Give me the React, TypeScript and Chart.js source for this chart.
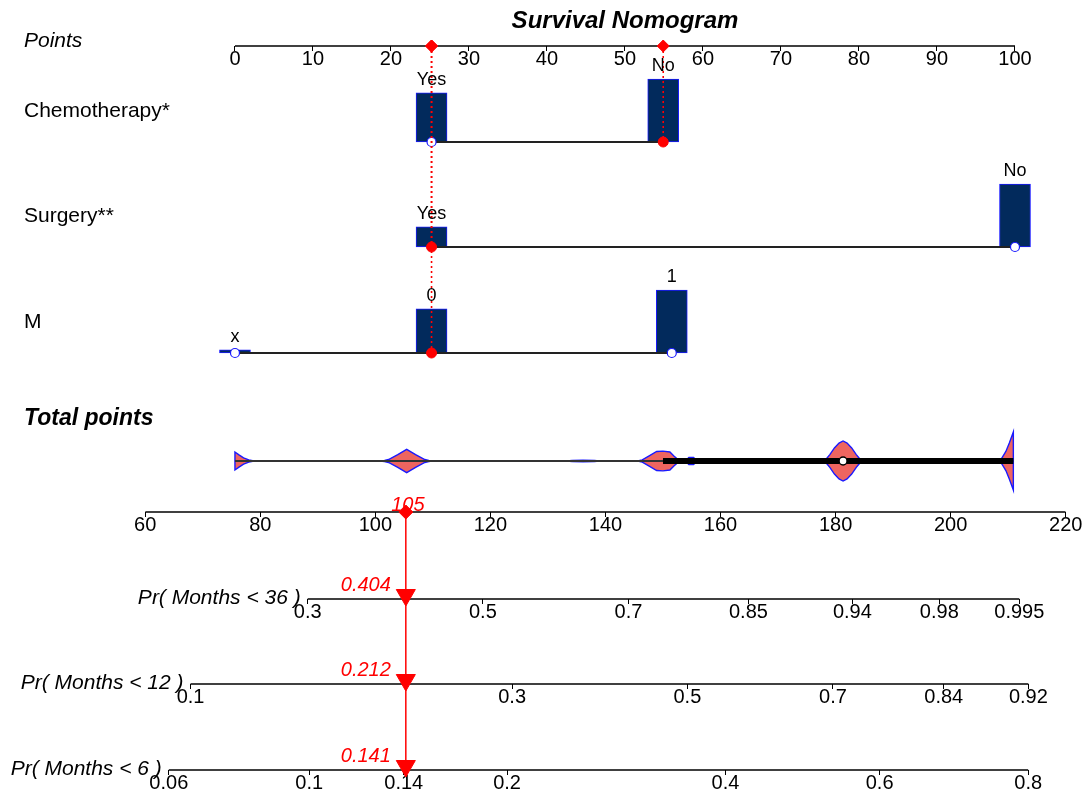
import React, { useEffect, useRef } from 'react';
import { Chart, registerables } from 'chart.js';

Chart.register(...registerables);

// ---------------- data ----------------
const pointTicks = [0, 10, 20, 30, 40, 50, 60, 70, 80, 90, 100];
const totalTicks = [60, 80, 100, 120, 140, 160, 180, 200, 220];

const chemoLevels = ['Yes', 'No'];
const chemoPoints = [25.2, 54.9];
const chemoFreq = [0.78, 1.0];

const surgeryLevels = ['Yes', 'No'];
const surgeryPoints = [25.2, 100];
const surgeryFreq = [0.32, 1.0];

const mLevels = ['x', '0', '1'];
const mPoints = [0, 25.2, 56.0];
const mFreq = [0.05, 0.7, 1.0];

const selectedLevels = ['No', 'Yes', '0'];

const horizons = [36, 12, 6];
const pr36Ticks = [0.3, 0.5, 0.7, 0.85, 0.94, 0.98, 0.995];
const pr12Ticks = [0.1, 0.3, 0.5, 0.7, 0.84, 0.92];
const pr6Ticks = [0.06, 0.1, 0.14, 0.2, 0.4, 0.6, 0.8];
const predictedProb = ['0.404', '0.212', '0.141'];
// Cox model: total points = shift + spread * log(-log(1 - p))
const coxSpread = 45.84;
const coxShift = [135.5, 171.04, 191.66];

const totalRange = [75.6, 210.9];
const totalBox = [150.0, 181.3, 210.9]; // q1, median, q3

const violin1TP = [75.6, 75.6, 76.3, 77.1, 78.0, 79.0];
const violin1D = [0, 0.31, 0.21, 0.11, 0.04, 0];
const violin2TP = [100.8, 101.6, 102.3, 103.9, 105.45, 107.0, 108.6, 109.3, 110.0];
const violin2D = [0, 0.02, 0.05, 0.22, 0.4, 0.22, 0.05, 0.02, 0];
const violin3TP = [133.3, 134.2, 136.1, 138.1, 139.0];
const violin3D = [0, 0.02, 0.025, 0.02, 0];
const violin4TP = [145.6, 146.4, 147.6, 148.9, 150.0, 151.2, 151.9, 152.6, 153.3];
const violin4D = [0, 0.04, 0.18, 0.33, 0.34, 0.31, 0.17, 0.05, 0];
const violin5TP = [153.9, 154.5, 155.3, 156.0];
const violin5D = [0, 0.12, 0.12, 0];
const violin6TP = [177.6, 178.3, 179.0, 179.8, 180.6, 181.3, 182.0, 182.8, 183.6, 184.3, 185.0];
const violin6D = [0, 0.05, 0.22, 0.45, 0.62, 0.69, 0.62, 0.45, 0.22, 0.05, 0];
const violin7TP = [208.3, 208.9, 209.6, 210.2, 210.9, 210.9];
const violin7D = [0, 0.1, 0.33, 0.62, 1.0, 0];

// ---------------- layout & style ----------------
const W = 1082;
const H = 794;
const FONT = '"Liberation Sans", Arial, Helvetica, sans-serif';
const LAYOUT = {
  areaLeft: 145.2,
  areaRight: 1065.7,
  ptsMin: -11.51,
  ptsMax: 106.5,
  tpMin: 60,
  tpMax: 220,
  labelX: 24,
  barMax: 63,
  barWidth: 31,
  violinMax: 29,
  rows: {
    title: 21,
    points: 46,
    chemo: 142,
    surgery: 247,
    m: 353,
    total: 461,
    totalAxis: 512,
    pr36: 599,
    pr12: 684,
    pr6: 770,
  },
};
const NAVY = '#022a5c';
const BLUE = '#1a1aff';
const RED = '#ff0000';
const SALMON = '#ee6560';

const R = LAYOUT.rows;
const variables = [
  { name: 'Chemotherapy*', levels: chemoLevels, points: chemoPoints, freq: chemoFreq, rowY: R.chemo },
  { name: 'Surgery**', levels: surgeryLevels, points: surgeryPoints, freq: surgeryFreq, rowY: R.surgery },
  { name: 'M', levels: mLevels, points: mPoints, freq: mFreq, rowY: R.m },
];
const prRows = [R.pr36, R.pr12, R.pr6];
const prTicks = [pr36Ticks, pr12Ticks, pr6Ticks];
const violins = [
  [violin1TP, violin1D],
  [violin2TP, violin2D],
  [violin3TP, violin3D],
  [violin4TP, violin4D],
  [violin5TP, violin5D],
  [violin6TP, violin6D],
  [violin7TP, violin7D],
];

const prToTP = (p: number, k: number) => coxShift[k] + coxSpread * Math.log(-Math.log(1 - p));

const selectedPoints = variables.map((v, k) => v.points[v.levels.indexOf(selectedLevels[k])]);
const totalScore = selectedPoints.reduce((a, b) => a + b, 0);

const zeroPad = (s: any) => {
  s.paddingLeft = 0;
  s.paddingRight = 0;
  s.paddingTop = 0;
  s.paddingBottom = 0;
};

function axisOpts(min: number, max: number, yPos: number, values: number[], labels: string[]) {
  return {
    type: 'linear',
    axis: 'x',
    min,
    max,
    offset: false,
    bounds: 'data',
    position: { y: yPos },
    border: { display: false },
    grid: { drawOnChartArea: false, drawTicks: true, tickLength: 5, color: '#000', lineWidth: 1, offset: false },
    ticks: {
      autoSkip: false,
      maxRotation: 0,
      minRotation: 0,
      padding: -2,
      color: '#000',
      font: { family: FONT, size: 20, lineHeight: 1 },
      callback: (_v: any, i: number) => labels[i],
    },
    afterBuildTicks: (s: any) => {
      s.ticks = values.map((v) => ({ value: v }));
    },
    afterFit: zeroPad,
  };
}

function lineDS(axis: string, data: { x: number; y: number }[], color: string, width: number, order: number, extra: any = {}) {
  return {
    type: 'line',
    xAxisID: axis,
    yAxisID: 'y',
    data,
    borderColor: color,
    backgroundColor: color,
    borderWidth: width,
    pointRadius: 0,
    tension: 0,
    fill: false,
    order,
    ...extra,
  };
}

function pointDS(axis: string, data: { x: number; y: number }[], style: string, radius: number, fillC: string, borderC: string, bw: number, order: number, rotation = 0) {
  return {
    type: 'line',
    xAxisID: axis,
    yAxisID: 'y',
    data,
    showLine: false,
    pointStyle: style,
    pointRadius: radius,
    pointRotation: rotation,
    pointBackgroundColor: fillC,
    pointBorderColor: borderC,
    pointBorderWidth: bw,
    order,
  };
}

function buildDatasets() {
  const ds: any[] = [];
  // bars
  ds.push({
    type: 'bar',
    xAxisID: 'pts',
    yAxisID: 'y',
    data: variables.flatMap((v) =>
      v.points.map((p, i) => ({ x: p, y: [v.rowY, v.rowY - v.freq[i] * LAYOUT.barMax] }))
    ),
    backgroundColor: NAVY,
    borderColor: BLUE,
    borderWidth: 1,
    borderSkipped: false,
    barThickness: LAYOUT.barWidth,
    grouped: false,
    order: 30,
  });
  // variable lines
  variables.forEach((v) => {
    ds.push(
      lineDS('pts', [
        { x: Math.min(...v.points), y: v.rowY },
        { x: Math.max(...v.points), y: v.rowY },
      ], '#222', 1.8, 25)
    );
  });
  // axis baselines
  ds.push(lineDS('pts', [{ x: pointTicks[0], y: R.points }, { x: pointTicks[pointTicks.length - 1], y: R.points }], '#000', 1.5, 25));
  ds.push(lineDS('tp', [{ x: totalTicks[0], y: R.totalAxis }, { x: totalTicks[totalTicks.length - 1], y: R.totalAxis }], '#000', 1.5, 25));
  prTicks.forEach((t, k) => {
    ds.push(lineDS('tp', [{ x: prToTP(t[0], k), y: prRows[k] }, { x: prToTP(t[t.length - 1], k), y: prRows[k] }], '#000', 1.5, 25));
  });
  // violins
  violins.forEach(([tp, d]) => {
    const upper = tp.map((x, i) => ({ x, y: R.total - d[i] * LAYOUT.violinMax }));
    const lower = tp.map((x, i) => ({ x, y: R.total + d[i] * LAYOUT.violinMax })).reverse();
    ds.push(lineDS('tp', [...upper, ...lower], BLUE, 1.4, 24, { fill: 'shape', backgroundColor: SALMON }));
  });
  // total points line and box
  ds.push(lineDS('tp', [{ x: totalRange[0], y: R.total }, { x: totalRange[1], y: R.total }], '#333', 2, 23));
  ds.push(lineDS('tp', [{ x: totalBox[0], y: R.total }, { x: totalBox[2], y: R.total }], '#000', 6, 22));
  ds.push(pointDS('tp', [{ x: totalBox[1], y: R.total }], 'circle', 4, '#fff', '#000', 1.5, 21));
  // blue open circles at non-selected levels
  const blue: any[] = [];
  variables.forEach((v, k) => {
    v.levels.forEach((lv, i) => {
      if (lv !== selectedLevels[k]) blue.push({ x: v.points[i], y: v.rowY });
    });
  });
  ds.push(pointDS('pts', blue, 'circle', 4.5, '#fff', BLUE, 1.2, 16));
  // dotted red guides
  variables.forEach((v, k) => {
    ds.push(
      lineDS('pts', [{ x: selectedPoints[k], y: R.points }, { x: selectedPoints[k], y: v.rowY }], RED, 1.6, 15, {
        borderDash: [2, 3],
      })
    );
  });
  // red markers
  ds.push(pointDS('pts', selectedPoints.map((p) => ({ x: p, y: R.points })), 'rectRot', 6, RED, RED, 1, 10));
  ds.push(pointDS('pts', variables.map((v, k) => ({ x: selectedPoints[k], y: v.rowY })), 'circle', 5, RED, RED, 1, 10));
  // red arrow on total points / probabilities
  ds.push(lineDS('tp', [{ x: totalScore, y: R.totalAxis }, { x: totalScore, y: R.pr6 }], RED, 1.5, 10));
  ds.push(pointDS('tp', [{ x: totalScore, y: R.totalAxis }], 'rectRot', 7, RED, RED, 1, 9));
  ds.push(pointDS('tp', prRows.map((y) => ({ x: totalScore, y: y - 4 })), 'triangle', 11, RED, RED, 1, 9, 180));
  return ds;
}

const textPlugin = {
  id: 'nomoText',
  afterDraw(chart: any) {
    const { ctx, scales } = chart;
    const xp = scales.pts;
    const xt = scales.tp;
    const y = scales.y;
    const txt = (s: string, x: number, yy: number, font: string, color = '#000', align = 'left') => {
      ctx.font = font;
      ctx.fillStyle = color;
      ctx.textAlign = align;
      ctx.textBaseline = 'middle';
      ctx.fillText(s, x, yy);
    };
    ctx.save();
    txt('Survival Nomogram', xp.getPixelForValue(50), y.getPixelForValue(R.title), `italic bold 24px ${FONT}`, '#000', 'center');
    txt('Points', LAYOUT.labelX, y.getPixelForValue(R.points) - 5, `italic 21px ${FONT}`);
    variables.forEach((v) => {
      txt(v.name, LAYOUT.labelX, y.getPixelForValue(v.rowY) - 31, `21px ${FONT}`);
      v.levels.forEach((lv, i) => {
        txt(
          lv,
          xp.getPixelForValue(v.points[i]),
          y.getPixelForValue(v.rowY - v.freq[i] * LAYOUT.barMax) - 13,
          `18px ${FONT}`,
          '#000',
          'center'
        );
      });
    });
    txt('Total points', LAYOUT.labelX, y.getPixelForValue(R.total) - 42, `italic bold 23px ${FONT}`);
    const ax = xt.getPixelForValue(totalScore);
    horizons.forEach((h, k) => {
      const ay = y.getPixelForValue(prRows[k]);
      const sx = xt.getPixelForValue(prToTP(prTicks[k][0], k));
      txt(`Pr( Months < ${h} )`, sx - 7, ay - 1, `italic 21px ${FONT}`, '#000', 'right');
      txt(predictedProb[k], ax - 15, ay - 14, `italic 20px ${FONT}`, RED, 'right');
    });
    txt(String(Math.round(totalScore)), ax + 2, y.getPixelForValue(R.totalAxis) - 7, `italic 20px ${FONT}`, RED, 'center');
    ctx.restore();
  },
};

export default function App() {
  const ref = useRef<HTMLCanvasElement>(null);
  useEffect(() => {
    const canvas = ref.current;
    if (!canvas) return;
    const chart = new Chart(canvas, {
      type: 'bar',
      data: { datasets: buildDatasets() },
      options: {
        responsive: false,
        animation: false,
        events: [],
        layout: {
          autoPadding: false,
          padding: { left: LAYOUT.areaLeft, right: W - LAYOUT.areaRight, top: 0, bottom: 0 },
        },
        plugins: { legend: { display: false }, tooltip: { enabled: false }, title: { display: false } },
        scales: {
          y: { type: 'linear', min: 0, max: H, reverse: true, display: false, offset: false, afterFit: zeroPad },
          pts: axisOpts(LAYOUT.ptsMin, LAYOUT.ptsMax, R.points, pointTicks, pointTicks.map(String)),
          tp: axisOpts(LAYOUT.tpMin, LAYOUT.tpMax, R.totalAxis, totalTicks, totalTicks.map(String)),
          pr36: axisOpts(LAYOUT.tpMin, LAYOUT.tpMax, R.pr36, pr36Ticks.map((p) => prToTP(p, 0)), pr36Ticks.map(String)),
          pr12: axisOpts(LAYOUT.tpMin, LAYOUT.tpMax, R.pr12, pr12Ticks.map((p) => prToTP(p, 1)), pr12Ticks.map(String)),
          pr6: axisOpts(LAYOUT.tpMin, LAYOUT.tpMax, R.pr6, pr6Ticks.map((p) => prToTP(p, 2)), pr6Ticks.map(String)),
        },
      } as any,
      plugins: [textPlugin],
    } as any);
    return () => chart.destroy();
  }, []);
  return (
    <div style={{ position: 'absolute', left: 0, top: 0, width: W, height: H, background: '#fff' }}>
      <canvas ref={ref} width={W} height={H} style={{ width: W, height: H, display: 'block' }} />
    </div>
  );
}
